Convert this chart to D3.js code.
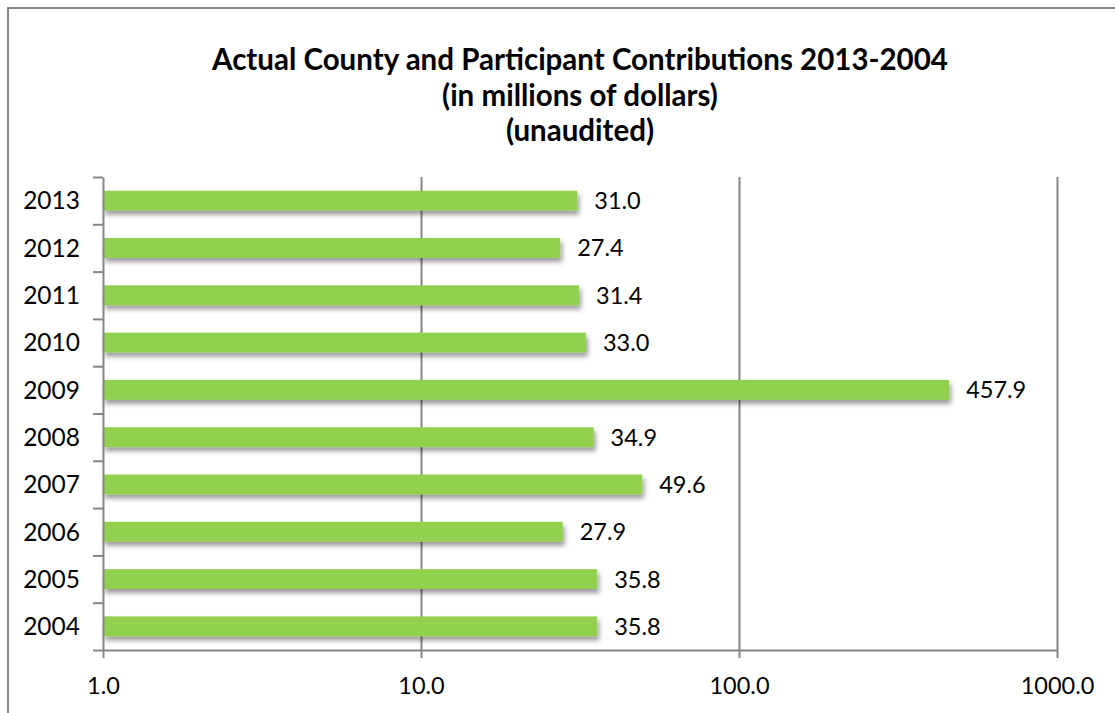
<!DOCTYPE html>
<html lang="en">
<head>
    <meta charset="UTF-8">
    <title>Actual County and Participant Contributions</title>
    <script src="https://d3js.org/d3.v7.min.js"></script>
    <style>
        body { margin: 0; background: #fff; }
        svg text { font-family: Lato, "Open Sans", sans-serif; fill: #000; }
        .bar { fill: #92d050; }
        .axis path, .axis line, .grid line { stroke: #868686; stroke-width: 2; }
        .grid path { stroke: none; }
    </style>
</head>
<body>
    <svg width="1115" height="713"></svg>
    <script>
        const years = ["2013", "2012", "2011", "2010", "2009", "2008", "2007", "2006", "2005", "2004"];
        const values = [31.0, 27.4, 31.4, 33.0, 457.9, 34.9, 49.6, 27.9, 35.8, 35.8];
        const xTicks = [1, 10, 100, 1000];
        const titleLines = [
            "Actual County and Participant Contributions 2013-2004",
            "(in millions of dollars)",
            "(unaudited)"
        ];

        const svg = d3.select("svg");
        const plotLeft = 103, plotTop = 177, plotRight = 1057, plotBottom = 650;

        // chart frame (runs off the right and bottom edge in the original)
        svg.append("rect")
           .attr("x", 8).attr("y", 8)
           .attr("width", 1130).attr("height", 730)
           .attr("fill", "none")
           .attr("stroke", "#868686")
           .attr("stroke-width", 2);

        const defs = svg.append("defs");
        defs.append("filter")
            .attr("id", "shadow")
            .attr("x", "-5%").attr("y", "-50%")
            .attr("width", "110%").attr("height", "250%")
          .append("feDropShadow")
            .attr("dx", 2).attr("dy", 4)
            .attr("stdDeviation", 2.5)
            .attr("flood-color", "#000")
            .attr("flood-opacity", 0.4);

        svg.append("g")
           .selectAll("text")
           .data(titleLines)
           .enter().append("text")
           .attr("x", 580)
           .attr("y", (d, i) => 70 + i * 35.5)
           .attr("text-anchor", "middle")
           .attr("font-size", 29.5)
           .attr("font-weight", "bold")
           .text(d => d);

        const x = d3.scaleLog()
                    .domain([1, 1000])
                    .range([plotLeft, plotRight]);

        const y = d3.scaleBand()
                    .domain(years)
                    .range([plotTop, plotBottom])
                    .paddingInner(0.58)
                    .paddingOuter(0.29);

        // vertical gridlines
        svg.append("g")
           .attr("class", "grid")
           .attr("transform", `translate(0, ${plotBottom})`)
           .call(d3.axisBottom(x).tickValues(xTicks.slice(1)).tickSize(-(plotBottom - plotTop)).tickFormat(""));

        // bars
        svg.append("g")
           .selectAll(".bar")
           .data(values)
           .enter().append("rect")
           .attr("class", "bar")
           .attr("x", x(1))
           .attr("y", (d, i) => y(years[i]))
           .attr("width", d => x(d) - x(1))
           .attr("height", y.bandwidth())
           .attr("filter", "url(#shadow)");

        // value labels
        svg.append("g")
           .selectAll("text")
           .data(values)
           .enter().append("text")
           .attr("x", d => x(d) + 17)
           .attr("y", (d, i) => y(years[i]) + y.bandwidth() / 2)
           .attr("dy", "0.36em")
           .attr("font-size", 23.5)
           .text(d => d3.format(".1f")(d));

        // x axis
        const xAxis = svg.append("g")
           .attr("class", "axis")
           .attr("transform", `translate(0, ${plotBottom})`)
           .call(d3.axisBottom(x).tickValues(xTicks).tickSizeInner(8).tickSizeOuter(0).tickPadding(19).tickFormat(d3.format(".1f")));
        xAxis.selectAll("text").attr("font-size", 23.5).style("font-family", "Lato, sans-serif");

        // y axis: ticks between categories
        const yEdges = d3.scaleLinear().domain([0, years.length]).range([plotTop, plotBottom]);
        svg.append("g")
           .attr("class", "axis")
           .attr("transform", `translate(${plotLeft}, 0)`)
           .call(d3.axisLeft(yEdges).ticks(years.length).tickSizeInner(10).tickSizeOuter(0).tickFormat(""));

        // y labels
        svg.append("g")
           .selectAll("text")
           .data(years)
           .enter().append("text")
           .attr("x", 80)
           .attr("y", d => y(d) + y.bandwidth() / 2)
           .attr("dy", "0.36em")
           .attr("text-anchor", "end")
           .attr("font-size", 24.5)
           .text(d => d);
    </script>
</body>
</html>
